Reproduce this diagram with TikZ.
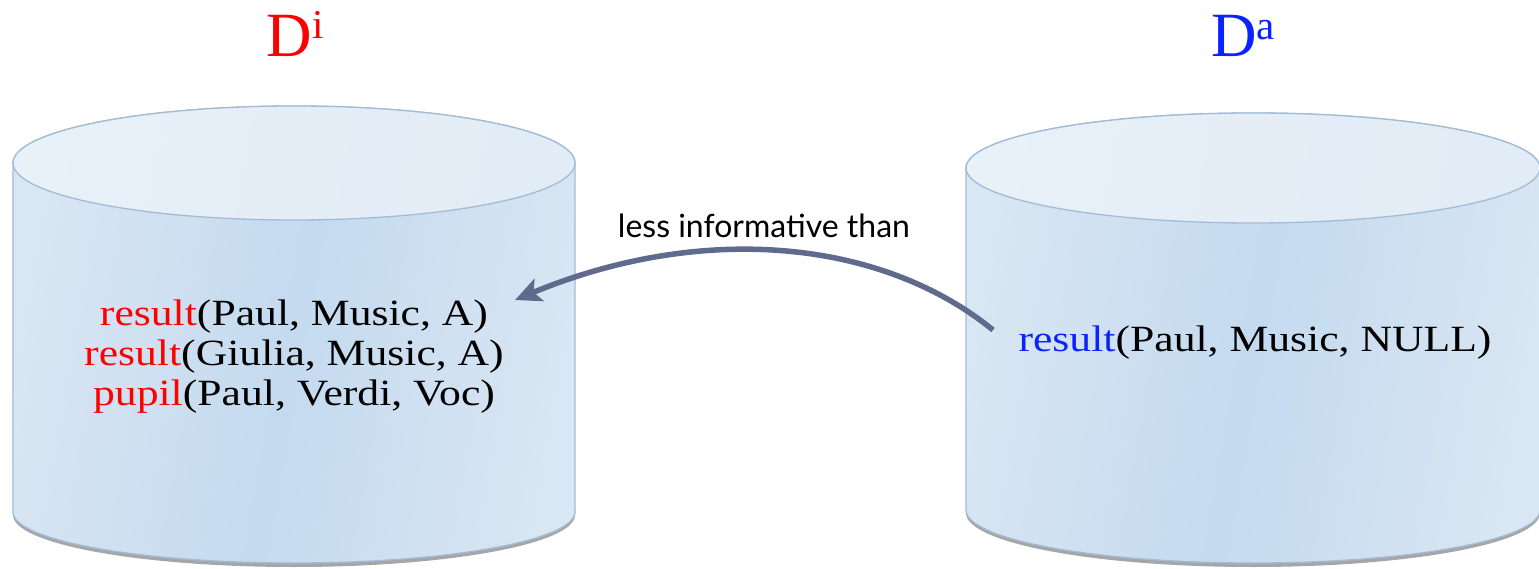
\documentclass[tikz,border=0pt]{standalone}
\usepackage{fontspec}
\setmainfont{Liberation Serif}
\newfontfamily\camfont[FakeStretch=1.18]{Liberation Serif}
\newfontfamily\gillfont{Lato}
\usetikzlibrary{arrows.meta}
\definecolor{cylline}{HTML}{A2BCD5}
\definecolor{cyltop}{HTML}{E2ECF6}
\definecolor{cylmid}{HTML}{C4DAEF}
\definecolor{cylside}{HTML}{D9E6F3}
\definecolor{arrowcol}{HTML}{5F6A8C}
\definecolor{labred}{HTML}{FF0000}
\definecolor{labblue}{HTML}{0A22FF}
\tikzset{
  cylbody/.style={draw=cylline, line width=1.3pt, left color=cylside, right color=cylside, middle color=cylmid, shading angle=80},
  cyltopstyle/.style={draw=cylline, line width=1.3pt, left color=cyltop!80!white, right color=cyltop, shading angle=80},
  cylshadow/.style={fill=black, opacity=0.35},
  factstext/.style={font=\camfont\fontsize{37}{40}\selectfont, align=center, text=black, inner sep=0pt},
  dblabel/.style={font=\fontsize{63}{63}\selectfont, inner sep=0pt, anchor=base},
  relarrow/.style={draw=arrowcol, line width=5.5pt, -{Stealth[length=26pt, width=24pt, inset=6pt]}},
  rellabel/.style={font=\gillfont\fontsize{32}{34}\selectfont, inner sep=0pt}
}
\begin{document}
\begin{tikzpicture}[x=1pt,y=1pt]
\useasboundingbox (0,0) rectangle (1539,568);
% left cylinder shadow and body
\fill[cylshadow] (13,53) arc[start angle=180,end angle=360,x radius=281pt,y radius=52pt] -- (575,60) -- (13,60) -- cycle;
\path[cylbody] (13,405) -- (13,56) arc[start angle=180,end angle=360,x radius=281pt,y radius=51pt] -- (575,405) arc[start angle=0,end angle=180,x radius=281pt,y radius=57pt] -- cycle;
\path[cyltopstyle] (294,405) ellipse[x radius=281pt,y radius=57pt];
% right cylinder shadow and body
\fill[cylshadow] (966,55) arc[start angle=180,end angle=360,x radius=287pt,y radius=54pt] -- (1540,62) -- (966,62) -- cycle;
\path[cylbody] (966,400) -- (966,58) arc[start angle=180,end angle=360,x radius=287pt,y radius=53pt] -- (1540,400) arc[start angle=0,end angle=180,x radius=287pt,y radius=55pt] -- cycle;
\path[cyltopstyle] (1253,400) ellipse[x radius=287pt,y radius=55pt];
% labels
\node[dblabel, text=labred] (di) at (295,511) {D\raisebox{18pt}{\fontsize{41}{41}\selectfont i}};
\node[dblabel, text=labblue] (da) at (1243,511) {D\raisebox{17pt}{\fontsize{41}{41}\selectfont a}};
% facts
\node[factstext] (left) at (294,211) {\textcolor{labred}{result}(Paul, Music, A)\\\textcolor{labred}{result}(Giulia, Music, A)\\\textcolor{labred}{pupil}(Paul, Verdi, Voc)};
\node[factstext] (right) at (1255,225) {\textcolor{labblue}{result}(Paul, Music, NULL)};
% relation
\node[rellabel] (rel) at (764,342) {less informative than};
\coordinate (arrS) at (993,238);
\coordinate (arrE) at (515,268);
\draw[relarrow] (arrS) .. controls (880,330) and (700,345) .. (arrE);
\end{tikzpicture}
\end{document}
